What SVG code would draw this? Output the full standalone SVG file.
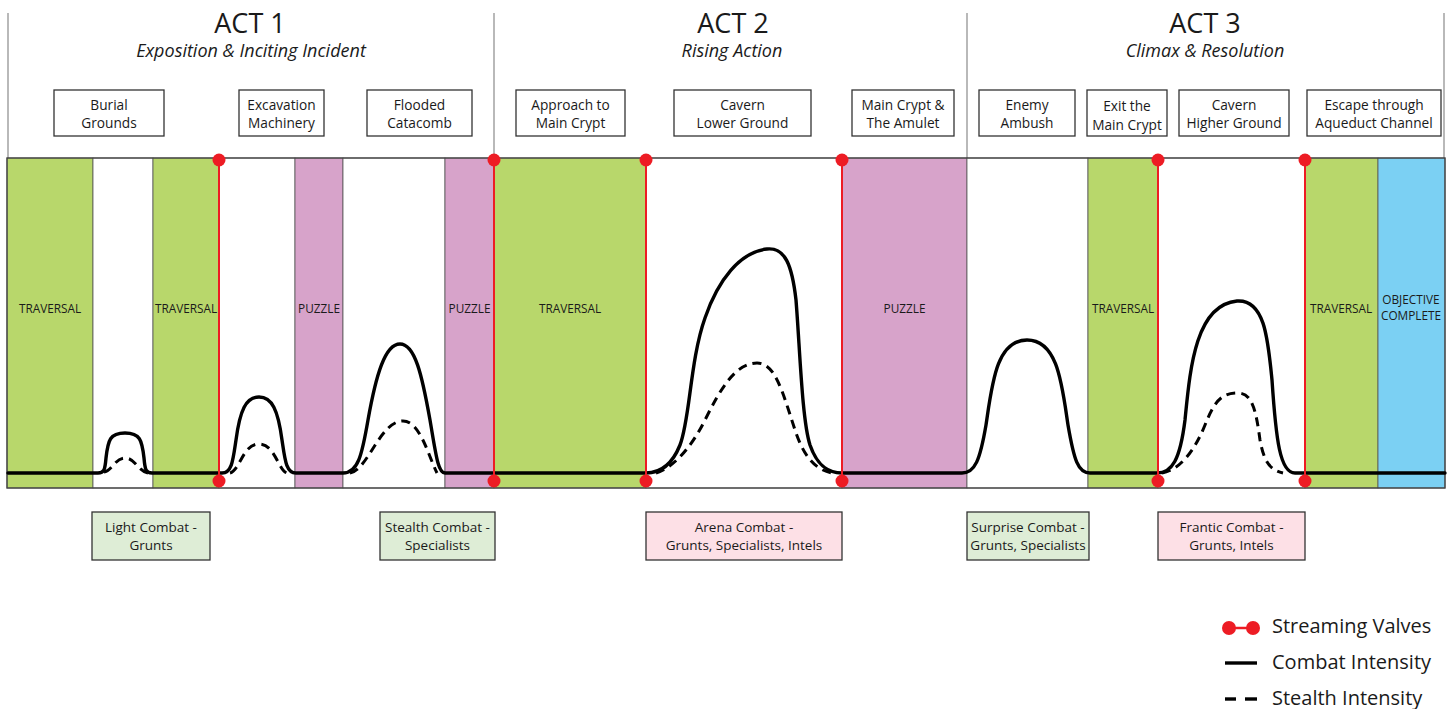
<svg xmlns="http://www.w3.org/2000/svg" width="1451" height="709" viewBox="0 0 1451 709">
<style>
text{font-family:"Open Sans","Noto Sans","Liberation Sans",sans-serif;fill:#1a1a1a}
.act{font-size:27px;text-anchor:middle}
.sub{font-size:18px;font-style:italic;text-anchor:middle}
.lbl{font-size:13.7px;text-anchor:middle}
.blbl{font-size:13.5px;text-anchor:middle}
.band{font-size:11.8px;text-anchor:middle}
.leg{font-size:20px}
.box{fill:#fff;stroke:#333;stroke-width:1.3}
.gbox{fill:#deedd6;stroke:#333;stroke-width:1.3}
.pbox{fill:#fde0e6;stroke:#333;stroke-width:1.3}
.tr{fill:#b8d76b;stroke:#555;stroke-width:0.8}
.pz{fill:#d7a3ca;stroke:#555;stroke-width:0.8}
.bl{fill:#7bd0f3;stroke:#555;stroke-width:0.8}
.wh{fill:#fff;stroke:#555;stroke-width:0.8}
.divl{stroke:#8a8a8a;stroke-width:1.2}
.valve{stroke:#ed1c24;stroke-width:2}
.dot{fill:#ed1c24}
.combat{fill:none;stroke:#000;stroke-width:3.4;stroke-linejoin:round;stroke-linecap:round}
.stealth{fill:none;stroke:#000;stroke-width:3;stroke-dasharray:9 6}
</style>

<g id="act-dividers">
<line class="divl" x1="8" y1="13" x2="8" y2="158"/>
<line class="divl" x1="494" y1="13" x2="494" y2="158"/>
<line class="divl" x1="967" y1="13" x2="967" y2="158"/>
<line class="divl" x1="1444" y1="13" x2="1444" y2="158"/>
</g>

<g id="act1-title">
<text class="act" x="250" y="33">ACT 1</text>
<text class="sub" x="251" y="57">Exposition &amp; Inciting Incident</text>
</g>
<g id="act2-title">
<text class="act" x="733" y="33">ACT 2</text>
<text class="sub" x="732" y="57">Rising Action</text>
</g>
<g id="act3-title">
<text class="act" x="1205" y="33">ACT 3</text>
<text class="sub" x="1205" y="57">Climax &amp; Resolution</text>
</g>

<g id="loc-burial"><rect class="box" x="54" y="90" width="110" height="46"/><text class="lbl" x="109" y="110">Burial</text><text class="lbl" x="109" y="128">Grounds</text></g>
<g id="loc-excavation"><rect class="box" x="239" y="90" width="85" height="46"/><text class="lbl" x="281.5" y="110">Excavation</text><text class="lbl" x="281.5" y="128">Machinery</text></g>
<g id="loc-flooded"><rect class="box" x="367" y="90" width="105" height="46"/><text class="lbl" x="419.5" y="110">Flooded</text><text class="lbl" x="419.5" y="128">Catacomb</text></g>
<g id="loc-approach"><rect class="box" x="516" y="90" width="109" height="46"/><text class="lbl" x="570.5" y="110">Approach to</text><text class="lbl" x="570.5" y="128">Main Crypt</text></g>
<g id="loc-cavern-lower"><rect class="box" x="674" y="90" width="137" height="46"/><text class="lbl" x="742.5" y="110">Cavern</text><text class="lbl" x="742.5" y="128">Lower Ground</text></g>
<g id="loc-main-crypt"><rect class="box" x="852" y="90" width="102" height="46"/><text class="lbl" x="903" y="110">Main Crypt &amp;</text><text class="lbl" x="903" y="128">The Amulet</text></g>
<g id="loc-ambush"><rect class="box" x="979" y="90" width="96" height="46"/><text class="lbl" x="1027" y="110">Enemy</text><text class="lbl" x="1027" y="128">Ambush</text></g>
<g id="loc-exit"><rect class="box" x="1087" y="90" width="80" height="46"/><text class="lbl" x="1127" y="111">Exit the</text><text class="lbl" x="1127" y="130">Main Crypt</text></g>
<g id="loc-cavern-higher"><rect class="box" x="1179" y="90" width="110" height="46"/><text class="lbl" x="1234" y="110">Cavern</text><text class="lbl" x="1234" y="128">Higher Ground</text></g>
<g id="loc-escape"><rect class="box" x="1307" y="90" width="134" height="46"/><text class="lbl" x="1374" y="110">Escape through</text><text class="lbl" x="1374" y="128">Aqueduct Channel</text></g>

<g id="bands">
<rect class="tr" x="7" y="158" width="86" height="330"/>
<rect class="wh" x="93" y="158" width="60" height="330"/>
<rect class="tr" x="153" y="158" width="66" height="330"/>
<rect class="wh" x="219" y="158" width="76" height="330"/>
<rect class="pz" x="295" y="158" width="48" height="330"/>
<rect class="wh" x="343" y="158" width="102" height="330"/>
<rect class="pz" x="445" y="158" width="49" height="330"/>
<rect class="tr" x="494" y="158" width="152" height="330"/>
<rect class="wh" x="646" y="158" width="196" height="330"/>
<rect class="pz" x="842" y="158" width="125" height="330"/>
<rect class="wh" x="967" y="158" width="121" height="330"/>
<rect class="tr" x="1088" y="158" width="70" height="330"/>
<rect class="wh" x="1158" y="158" width="147" height="330"/>
<rect class="tr" x="1305" y="158" width="73" height="330"/>
<rect class="bl" x="1378" y="158" width="67" height="330"/>
<rect x="7" y="158" width="1438" height="330" fill="none" stroke="#444" stroke-width="1.3"/>
<text class="band" x="50" y="313">TRAVERSAL</text>
<text class="band" x="186" y="313">TRAVERSAL</text>
<text class="band" x="319" y="313">PUZZLE</text>
<text class="band" x="469.5" y="313">PUZZLE</text>
<text class="band" x="570" y="313">TRAVERSAL</text>
<text class="band" x="904.5" y="313">PUZZLE</text>
<text class="band" x="1123" y="313">TRAVERSAL</text>
<text class="band" x="1341" y="313">TRAVERSAL</text>
<text class="band" x="1411" y="304">OBJECTIVE</text>
<text class="band" x="1411" y="320">COMPLETE</text>
</g>

<g id="connectors">
<path class="combat" d="M8,473 L98,473 C104,473 105,470 106,458 C108,440 110,433 125,433 C140,433 142,440 144,458 C145,470 146,473 152,473 L222,473 C232,473 233,460 236,440 C240,410 246,397 259,397 C272,397 278,410 282,440 C285,460 286,473 296,473 L343,473 C358,473 362,455 368,420 C376,375 385,344 400,344 C415,344 422,375 430,420 C436,455 438,473 445,473 L646,473 C660,473 672,465 680,445 C690,420 690,360 705,318 C718,280 740,252 767,249 C785,247 792,265 796,300 C800,350 802,420 810,445 C818,468 830,473 842,473 L962,473 C975,473 980,460 986,425 C992,385 996,340 1027,340 C1058,340 1062,385 1068,425 C1074,460 1078,473 1090,473 L1157,473 C1172,473 1180,460 1185,420 C1190,370 1195,305 1237,301 C1265,299 1268,340 1272,380 C1276,440 1280,473 1295,473 L1445,473"/>
<path class="stealth" d="M104,472 C112,471 115,458 125,458 C135,458 138,471 148,473"/>
<path class="stealth" d="M230,473 C240,470 243,444 259,444 C275,444 278,470 287,473"/>
<path class="stealth" d="M350,473 C368,470 380,421 403,421 C420,421 428,455 437,473"/>
<path class="stealth" d="M656,473 C672,468 690,450 705,420 C720,390 735,363 757,363 C775,363 782,390 795,430 C803,455 815,470 832,473"/>
<path class="stealth" d="M1162,473 C1180,470 1195,450 1205,425 C1215,400 1222,393 1238,393 C1252,393 1256,410 1260,440 C1264,462 1270,470 1283,473"/>
</g>

<g id="valves">
<line class="valve" x1="219" y1="160" x2="219" y2="481"/>
<line class="valve" x1="494" y1="160" x2="494" y2="481"/>
<line class="valve" x1="646" y1="160" x2="646" y2="481"/>
<line class="valve" x1="842" y1="160" x2="842" y2="481"/>
<line class="valve" x1="1158" y1="160" x2="1158" y2="481"/>
<line class="valve" x1="1305" y1="160" x2="1305" y2="481"/>
<circle class="dot" cx="219" cy="160" r="6.5"/><circle class="dot" cx="219" cy="481" r="6.5"/>
<circle class="dot" cx="494" cy="160" r="6.5"/><circle class="dot" cx="494" cy="481" r="6.5"/>
<circle class="dot" cx="646" cy="160" r="6.5"/><circle class="dot" cx="646" cy="481" r="6.5"/>
<circle class="dot" cx="842" cy="160" r="6.5"/><circle class="dot" cx="842" cy="481" r="6.5"/>
<circle class="dot" cx="1158" cy="160" r="6.5"/><circle class="dot" cx="1158" cy="481" r="6.5"/>
<circle class="dot" cx="1305" cy="160" r="6.5"/><circle class="dot" cx="1305" cy="481" r="6.5"/>
</g>

<g id="enc-light"><rect class="gbox" x="92" y="512" width="118" height="48"/><text class="blbl" x="151" y="532">Light Combat -</text><text class="blbl" x="151" y="550">Grunts</text></g>
<g id="enc-stealth"><rect class="gbox" x="380" y="512" width="115" height="48"/><text class="blbl" x="437.5" y="532">Stealth Combat -</text><text class="blbl" x="437.5" y="550">Specialists</text></g>
<g id="enc-arena"><rect class="pbox" x="646" y="512" width="196" height="48"/><text class="blbl" x="744" y="532">Arena Combat -</text><text class="blbl" x="744" y="550">Grunts, Specialists, Intels</text></g>
<g id="enc-surprise"><rect class="gbox" x="967" y="512" width="122" height="48"/><text class="blbl" x="1028" y="532">Surprise Combat -</text><text class="blbl" x="1028" y="550">Grunts, Specialists</text></g>
<g id="enc-frantic"><rect class="pbox" x="1158" y="512" width="147" height="48"/><text class="blbl" x="1231.5" y="532">Frantic Combat -</text><text class="blbl" x="1231.5" y="550">Grunts, Intels</text></g>

<g id="legend">
<line x1="1229" y1="628" x2="1253" y2="628" stroke="#ed1c24" stroke-width="2.5"/>
<circle class="dot" cx="1229" cy="628" r="7"/><circle class="dot" cx="1253" cy="628" r="7"/>
<text class="leg" x="1272" y="633">Streaming Valves</text>
<line x1="1225" y1="663" x2="1257" y2="663" stroke="#000" stroke-width="3.4"/>
<text class="leg" x="1272" y="669">Combat Intensity</text>
<line x1="1225" y1="699" x2="1236" y2="699" stroke="#000" stroke-width="3.4"/>
<line x1="1245" y1="699" x2="1257" y2="699" stroke="#000" stroke-width="3.4"/>
<text class="leg" x="1272" y="705">Stealth Intensity</text>
</g>
</svg>
